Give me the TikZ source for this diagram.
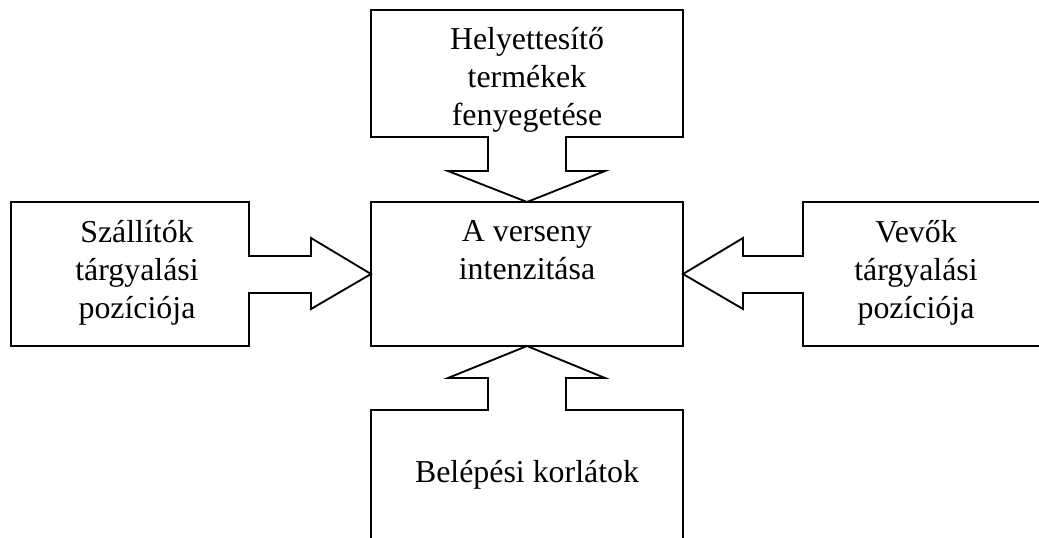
\documentclass[tikz,border=0pt]{standalone}
\usepackage{fontspec}
\setmainfont{Liberation Serif}
\begin{document}
\begin{tikzpicture}[x=0.75pt,y=-0.75pt,
  outline/.style={draw=black,line width=1.4pt,line join=miter},
  label/.style={inner sep=0pt,align=center,anchor=base,
    font=\fontsize{23.9}{28.2}\selectfont}]
\useasboundingbox (0,0) rectangle (1039,537);
\clip (0,0) rectangle (1039,537);

% top force with its arrow pointing down
\draw[outline] (371,10) -- (683,10) -- (683,137) -- (566,137) -- (566,171)
  -- (605,171) -- (527,202) -- (448,171) -- (488,171) -- (488,137)
  -- (371,137) -- cycle;
% central box
\draw[outline] (371,202) rectangle (683,346);
% left force with its arrow pointing right
\draw[outline] (11,202) -- (249,202) -- (249,256) -- (311,256) -- (311,238)
  -- (371,274) -- (311,309) -- (311,293) -- (249,293) -- (249,346)
  -- (11,346) -- cycle;
% right force with its arrow pointing left
\draw[outline] (1050,202) -- (803,202) -- (803,256) -- (743,256) -- (743,238)
  -- (683,274) -- (743,309) -- (743,293) -- (803,293) -- (803,346)
  -- (1050,346);
% bottom force with its arrow pointing up
\draw[outline] (371,550) -- (371,410) -- (488,410) -- (488,378) -- (448,378)
  -- (527,346) -- (605,378) -- (566,378) -- (566,410) -- (683,410)
  -- (683,550);

% labels, each placed at the baseline of its last line
\node[label] (subst) at (527,125) {Helyettesítő\\termékek\\fenyegetése};
\node[label] (rivalry) at (527,279) {A verseny\\intenzitása};
\node[label] (suppl) at (137,318) {Szállítók\\tárgyalási\\pozíciója};
\node[label] (buyers) at (916,318) {Vevők\\tárgyalási\\pozíciója};
\node[label] (entry) at (527,482) {Belépési korlátok};
\end{tikzpicture}
\end{document}
